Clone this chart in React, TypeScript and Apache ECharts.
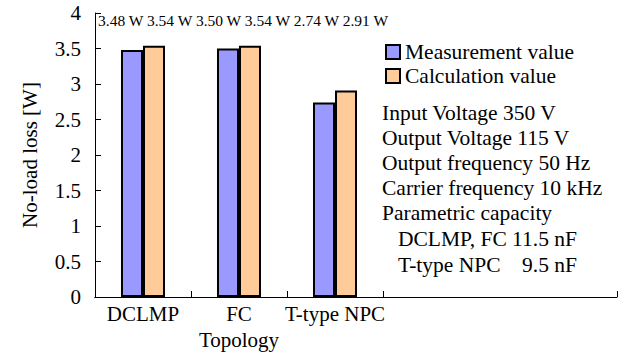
import React, { useEffect, useRef } from "react";
import * as echarts from "echarts";

const categories = ["DCLMP", "FC", "T-type NPC"];
const measurement = [3.48, 3.5, 2.74];
const calculation = [3.54, 3.54, 2.91];
const yTicks = { min: 0, max: 4, interval: 0.5 };
const conditions = [
  "Input Voltage 350 V",
  "Output Voltage 115 V",
  "Output frequency 50 Hz",
  "Carrier frequency 10 kHz",
  "Parametric capacity",
];
const capacityRows = [
  ["DCLMP, FC", "11.5 nF"],
  ["T-type NPC", "9.5 nF"],
];

const FONT = "Liberation Serif";

export default function App() {
  const ref = useRef<HTMLDivElement>(null);
  useEffect(() => {
    if (!ref.current) return;
    const chart = echarts.init(ref.current, undefined, { renderer: "svg" });
    const topLabel = categories
      .map((_, i) => `${measurement[i].toFixed(2)} W ${calculation[i].toFixed(2)} W`)
      .join(" ");
    const graphic: any[] = [
      {
        type: "text",
        x: 98,
        y: 20,
        style: { text: topLabel, fontSize: 15.5, fontFamily: FONT, fill: "#000", align: "left", verticalAlign: "middle" },
      },
    ];
    conditions.forEach((t, i) => {
      graphic.push({
        type: "text",
        x: 382,
        y: 113 + i * 25,
        style: { text: t, fontSize: 21.5, fontFamily: FONT, fill: "#000", align: "left", verticalAlign: "middle" },
      });
    });
    capacityRows.forEach((r, i) => {
      const y = 239 + i * 25.5;
      graphic.push({
        type: "text",
        x: 398,
        y,
        style: { text: r[0], fontSize: 21.5, fontFamily: FONT, fill: "#000", align: "left", verticalAlign: "middle" },
      });
      graphic.push({
        type: "text",
        x: 577,
        y,
        style: { text: r[1], fontSize: 21.5, fontFamily: FONT, fill: "#000", align: "right", verticalAlign: "middle" },
      });
    });

    const barStyle = (color: string) => ({ color, borderColor: "#000", borderWidth: 2 });

    chart.setOption({
      animation: false,
      backgroundColor: "#fff",
      textStyle: { fontFamily: FONT, color: "#000" },
      grid: [
        { left: 95, top: 13, width: 288, bottom: 63, containLabel: false },
        { left: 95, top: 13, right: 7, bottom: 63, containLabel: false },
      ],
      legend: {
        orient: "vertical",
        left: 380,
        top: 36,
        icon: "rect",
        itemWidth: 14,
        itemHeight: 14,
        itemGap: 2,
        textStyle: { fontSize: 21.5, fontFamily: FONT, color: "#000" },
        data: ["Measurement value", "Calculation value"],
      },
      xAxis: [
        {
          type: "category",
          gridIndex: 0,
          data: categories,
          name: "Topology",
          nameLocation: "middle",
          nameGap: 32,
          nameTextStyle: { fontSize: 21, fontFamily: FONT, color: "#000" },
          axisLine: { show: true, lineStyle: { color: "#000", width: 1 } },
          axisTick: { show: true, inside: true, length: 6, lineStyle: { color: "#000" }, interval: (i: number) => i === 1 || i === 2 },
          axisLabel: { fontSize: 21, fontFamily: FONT, color: "#000", margin: 6, interval: 0 },
        },
        {
          type: "value",
          gridIndex: 1,
          min: 0,
          max: 1,
          interval: 1,
          axisLine: { show: true, lineStyle: { color: "#000", width: 1 } },
          axisTick: { show: true, inside: true, length: 6, lineStyle: { color: "#000" } },
          axisLabel: { show: false },
          splitLine: { show: false },
        },
      ],
      yAxis: [
        {
          type: "value",
          gridIndex: 0,
          min: yTicks.min,
          max: yTicks.max,
          interval: yTicks.interval,
          name: "No-load loss [W]",
          nameLocation: "middle",
          nameGap: 55,
          nameTextStyle: { fontSize: 21, fontFamily: FONT, color: "#000" },
          axisLine: { show: true, lineStyle: { color: "#000", width: 1 } },
          axisTick: { show: true, inside: true, length: 6, lineStyle: { color: "#000" } },
          axisLabel: { fontSize: 21, fontFamily: FONT, color: "#000", margin: 14 },
          splitLine: { show: false },
        },
        { type: "value", gridIndex: 1, show: false, min: 0, max: 1 },
      ],
      series: [
        {
          name: "Measurement value",
          type: "bar",
          xAxisIndex: 0,
          yAxisIndex: 0,
          data: measurement,
          barWidth: 22,
          barGap: "0%",
          itemStyle: barStyle("#9999FF"),
        },
        {
          name: "Calculation value",
          type: "bar",
          xAxisIndex: 0,
          yAxisIndex: 0,
          data: calculation,
          barWidth: 22,
          barGap: "0%",
          itemStyle: barStyle("#FFCC99"),
        },
      ],
      graphic,
    });
    return () => chart.dispose();
  }, []);
  return <div ref={ref} style={{ position: "fixed", left: 0, top: 0, width: 624, height: 360 }} />;
}
